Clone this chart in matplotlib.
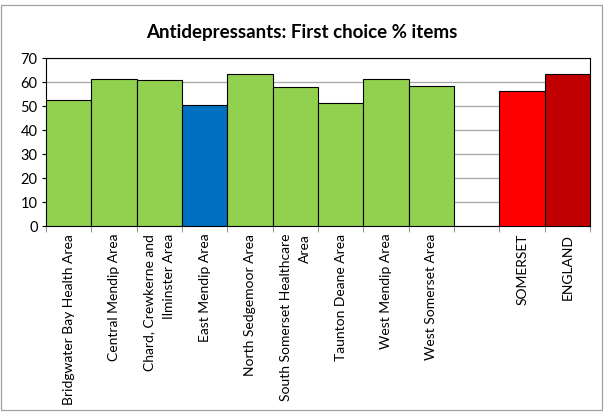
import matplotlib

matplotlib.use("Agg")
import matplotlib.pyplot as plt  # noqa: E402
import numpy as np  # noqa: E402
from matplotlib.patches import Rectangle  # noqa: E402

# data
labels = [
    "Bridgwater Bay Health Area",
    "Central Mendip Area",
    "Chard, Crewkerne and\nIlminster Area",
    "East Mendip Area",
    "North Sedgemoor Area",
    "South Somerset Healthcare\nArea",
    "Taunton Deane Area",
    "West Mendip Area",
    "West Somerset Area",
    "",
    "SOMERSET",
    "ENGLAND",
]
values = [52.6, 61.4, 61.0, 50.5, 63.5, 57.8, 51.4, 61.4, 58.5, None, 56.4, 63.3]
colors = ["#92D050", "#92D050", "#92D050", "#0070C0", "#92D050", "#92D050",
          "#92D050", "#92D050", "#92D050", "none", "#FF0000", "#C00000"]

plt.rcParams["font.family"] = ["Lato", "DejaVu Sans"]

fig = plt.figure(figsize=(6.04, 4.12), dpi=100)
ax = fig.add_axes([0.076, 0.451, 0.901, 0.408])

xs = np.arange(len(labels))
for x, v, c in zip(xs, values, colors):
    if v is None:
        continue
    ax.bar(x, v, width=1.0, color=c, edgecolor="black", linewidth=0.8, zorder=3)

ax.set_xlim(-0.5, len(labels) - 0.5)
ax.set_ylim(0, 70)
ax.set_yticks(range(0, 71, 10))
ax.tick_params(axis="y", labelsize=10.5, length=3, width=0.8, pad=3)
ax.grid(axis="y", color="#a6a6a6", linewidth=0.9, zorder=0)

# tick marks sit on the category boundaries, labels in the middle
ax.set_xticks(np.arange(-0.5, len(labels)))
ax.set_xticklabels([])
ax.tick_params(axis="x", length=4, width=0.6, color="#808080")
for x, lab in zip(xs, labels):
    ax.text(x, -0.045, lab, transform=ax.get_xaxis_transform(), rotation=90,
            ha="center", va="top", multialignment="right", fontsize=10,
            linespacing=1.75)

for s in ax.spines.values():
    s.set_linewidth(0.8)
    s.set_color("black")

fig.suptitle("Antidepressants: First choice % items", y=0.942, fontsize=13.5,
             fontweight="bold")

fig.patches.append(Rectangle((0.002, 0.004), 0.995, 0.984, transform=fig.transFigure,
                             fill=False, edgecolor="#a0a0a0", linewidth=0.9))

fig.savefig("out.png", dpi=100)
